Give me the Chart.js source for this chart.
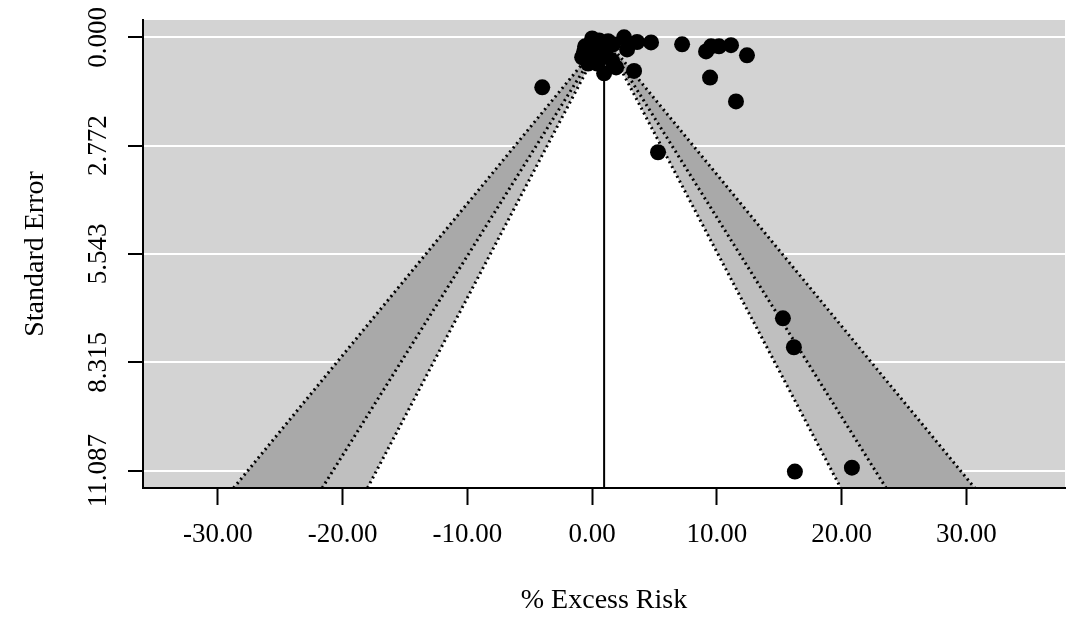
<!DOCTYPE html>
<html>
<head>
<meta charset="utf-8">
<script src="https://cdn.jsdelivr.net/npm/chart.js@4.4.1/dist/chart.umd.min.js"></script>
<style>
  html, body { margin: 0; padding: 0; background: #fff; }
  #wrap { width: 1078px; height: 619px; }
</style>
</head>
<body>
<div id="wrap"><canvas id="funnel" width="1078" height="619"></canvas></div>
<script>
// study estimates (% excess risk) and their standard errors
const effects = [
  0.00, 0.56, 1.28, -0.56, 0.16, 0.88, 1.68, -0.80, -0.16, 0.48, 1.12, -0.32,
  0.40, 0.96, 1.92, -0.64, 1.60,
  2.56, 3.60, 4.72, 2.80, 3.36, 7.21, 9.13, 9.53, 10.17, 11.13, 12.41, 9.45,
  11.53, -4.00, 5.28, 15.29, 16.17, 16.25, 20.82
];
const stdErrors = [
  0.03, 0.08, 0.10, 0.23, 0.23, 0.26, 0.18, 0.51, 0.44, 0.46, 0.44, 0.67,
  0.67, 0.92, 0.77, 0.36, 0.60,
  0.00, 0.12, 0.13, 0.31, 0.86, 0.18, 0.36, 0.23, 0.23, 0.20, 0.46, 1.03,
  1.64, 1.28, 2.94, 7.19, 7.93, 11.11, 11.01
];

const pooled = 0.96;                 // summary estimate (reference line)
const contourZ = [2.576, 1.96, 1.645]; // 99%, 95%, 90% regions
const contourFill = ['#a9a9a9', '#bfbfbf', '#ffffff'];

const xTicks = [-30, -20, -10, 0, 10, 20, 30];
const yTicks = [0, 2.772, 5.543, 8.315, 11.087];
const xRange = [-36.0, 37.9];
const seRange = [-0.4435, 11.5305];

const serif = '"Liberation Serif", "DejaVu Serif", serif';

const funnelShape = z => [
  { x: pooled - z * seRange[1], y: seRange[1] },
  { x: pooled, y: 0 },
  { x: pooled + z * seRange[1], y: seRange[1] }
];

const datasets = [];
contourZ.forEach((z, i) => {
  datasets.push({
    data: funnelShape(z),
    backgroundColor: contourFill[i],
    borderWidth: 0,
    pointRadius: 0,
    fill: 'shape',
    order: 10 - i
  });
});
contourZ.forEach(z => {
  datasets.push({
    data: funnelShape(z),
    borderColor: '#000',
    borderWidth: 3,
    borderDash: [2, 3.5],
    pointRadius: 0,
    fill: false,
    order: 3
  });
});
datasets.push({
  data: [{ x: pooled, y: 0 }, { x: pooled, y: seRange[1] }],
  borderColor: '#000',
  borderWidth: 2,
  pointRadius: 0,
  fill: false,
  order: 2
});
datasets.push({
  data: effects.map((e, i) => ({ x: e, y: stdErrors[i] })),
  showLine: false,
  pointRadius: 8,
  pointHoverRadius: 8,
  pointBackgroundColor: '#000',
  pointBorderColor: '#000',
  pointBorderWidth: 0,
  order: 0
});

const panelBg = {
  id: 'panelBg',
  beforeDraw(chart) {
    const { ctx, chartArea: a } = chart;
    ctx.save();
    ctx.fillStyle = '#d3d3d3';
    ctx.fillRect(a.left, a.top, a.right - a.left, a.bottom - a.top);
    ctx.restore();
  }
};

const axisText = {
  id: 'axisText',
  afterDraw(chart) {
    const { ctx, chartArea: a } = chart;
    const xs = chart.scales.x, ys = chart.scales.y;
    ctx.save();
    ctx.fillStyle = '#000';
    ctx.font = '27px ' + serif;
    ctx.textAlign = 'center';
    ctx.textBaseline = 'alphabetic';
    xTicks.forEach(v => {
      ctx.fillText(v.toFixed(2), xs.getPixelForValue(v), 542);
    });
    yTicks.forEach(v => {
      ctx.save();
      ctx.translate(106, ys.getPixelForValue(v));
      ctx.rotate(-Math.PI / 2);
      ctx.fillText(v.toFixed(3), 0, 0);
      ctx.restore();
    });
    ctx.font = '28px ' + serif;
    ctx.fillText('% Excess Risk', (a.left + a.right) / 2, 608);
    ctx.translate(43, (a.top + a.bottom) / 2);
    ctx.rotate(-Math.PI / 2);
    ctx.fillText('Standard Error', 0, 0);
    ctx.restore();
  }
};

new Chart(document.getElementById('funnel'), {
  type: 'line',
  data: { datasets: datasets },
  plugins: [panelBg, axisText],
  options: {
    responsive: false,
    animation: false,
    devicePixelRatio: 1,
    layout: { padding: { top: 20, right: 13, left: 0, bottom: 0 } },
    plugins: { legend: { display: false }, tooltip: { enabled: false } },
    elements: { line: { tension: 0 } },
    scales: {
      x: {
        type: 'linear',
        min: xRange[0],
        max: xRange[1],
        afterBuildTicks: s => { s.ticks = xTicks.map(v => ({ value: v })); },
        afterFit: s => { s.height = 131; },
        ticks: { display: false },
        grid: { drawOnChartArea: false, drawTicks: true, tickLength: 17, tickColor: '#000', tickWidth: 2 },
        border: { display: true, color: '#000', width: 2, z: 1 }
      },
      y: {
        type: 'linear',
        reverse: true,
        min: seRange[0],
        max: seRange[1],
        afterBuildTicks: s => { s.ticks = yTicks.map(v => ({ value: v })); },
        afterFit: s => { s.width = 143; },
        ticks: { display: false },
        grid: { color: '#fff', lineWidth: 2, drawTicks: true, tickLength: 15, tickColor: '#000', tickWidth: 2 },
        border: { display: true, color: '#000', width: 2, z: 1 }
      }
    }
  }
});
</script>
</body>
</html>
